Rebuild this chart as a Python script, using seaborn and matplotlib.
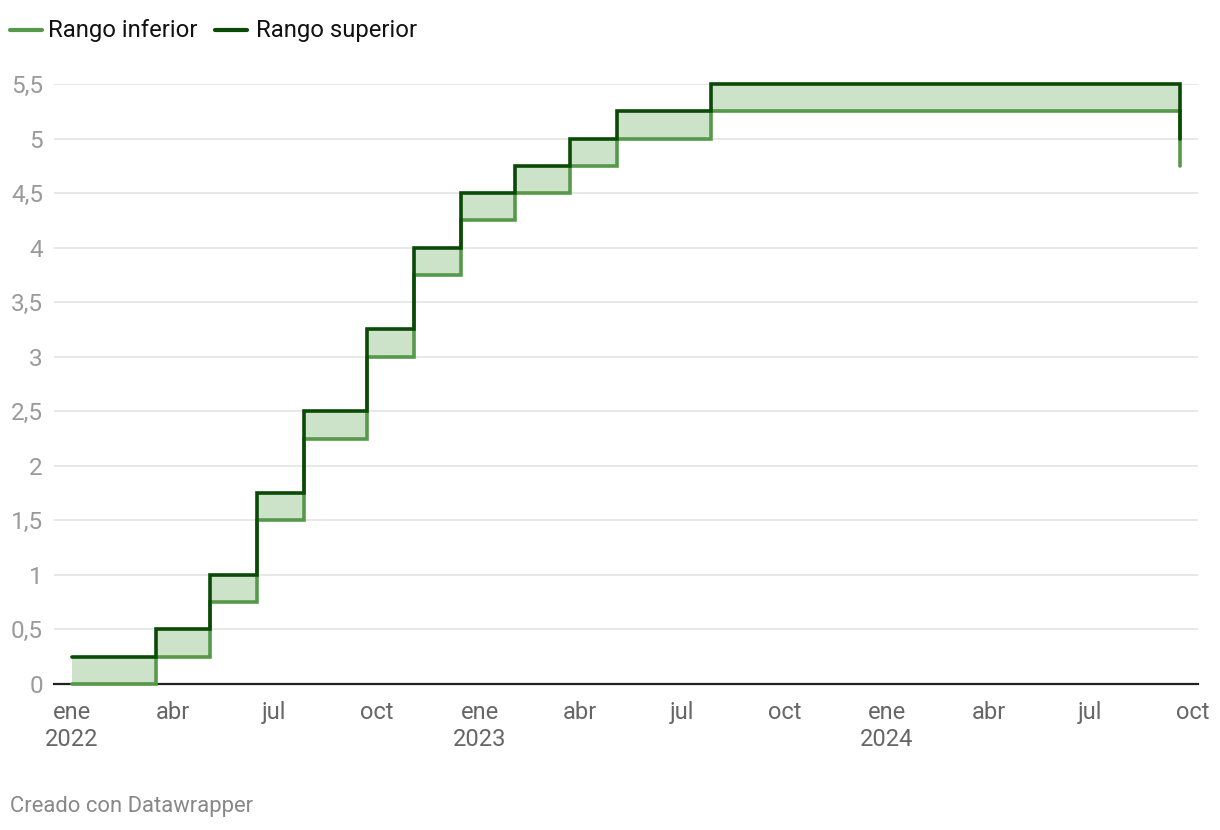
import matplotlib
matplotlib.use("Agg")
import matplotlib.pyplot as plt
import seaborn as sns
import pandas as pd

# Data: Fed funds target range changes
dates = ["2022-01-01", "2022-03-17", "2022-05-05", "2022-06-16", "2022-07-28",
         "2022-09-22", "2022-11-03", "2022-12-15", "2023-02-02", "2023-03-23",
         "2023-05-04", "2023-07-27", "2024-09-19"]
lower = [0.0, 0.25, 0.75, 1.5, 2.25, 3.0, 3.75, 4.25, 4.5, 4.75, 5.0, 5.25, 4.75]
upper = [0.25, 0.5, 1.0, 1.75, 2.5, 3.25, 4.0, 4.5, 4.75, 5.0, 5.25, 5.5, 5.0]

tick_dates = ["2022-01-01", "2022-04-01", "2022-07-01", "2022-10-01",
              "2023-01-01", "2023-04-01", "2023-07-01", "2023-10-01",
              "2024-01-01", "2024-04-01", "2024-07-01", "2024-10-01"]
tick_labels = ["ene\n2022", "abr", "jul", "oct",
               "ene\n2023", "abr", "jul", "oct",
               "ene\n2024", "abr", "jul", "oct"]
y_ticks = [0, 0.5, 1, 1.5, 2, 2.5, 3, 3.5, 4, 4.5, 5, 5.5]

LIGHT = "#57994a"
DARK = "#0a4a06"
FILL = "#cde3c9"

df = pd.DataFrame({"fecha": pd.to_datetime(dates), "Rango inferior": lower, "Rango superior": upper})
long = df.melt(id_vars="fecha", var_name="serie", value_name="valor")

sns.set_style("white")
plt.rcParams["font.family"] = ["Roboto", "DejaVu Sans"]

fig = plt.figure(figsize=(12.2, 8.3), dpi=100)
W, H = 1220, 830
ax = fig.add_axes([54 / W, (H - 684) / H, (1198 - 54) / W, (684 - 84) / H])

ax.fill_between(df["fecha"], df["Rango inferior"], df["Rango superior"], step="post",
                color=FILL, linewidth=0, zorder=1)
sns.lineplot(data=long, x="fecha", y="valor", hue="serie",
             palette={"Rango inferior": LIGHT, "Rango superior": DARK},
             drawstyle="steps-post", linewidth=2.6, ax=ax, legend=False, zorder=3)
for ln in ax.lines:
    ln.set_clip_on(False)
    ln.set_solid_capstyle("round")
    ln.set_solid_joinstyle("miter")

x0 = pd.Timestamp("2022-01-01") - pd.Timedelta(days=16.1)
x1 = pd.Timestamp("2024-10-01") + pd.Timedelta(days=4.5)
ax.set_xlim(x0, x1)
ax.set_ylim(0, 5.5)

ax.set_yticks(y_ticks)
ax.set_yticklabels([("%g" % v).replace(".", ",") for v in y_ticks])
ax.set_xticks(pd.to_datetime(tick_dates))
ax.set_xticklabels(tick_labels, linespacing=1.25)
ax.tick_params(axis="both", length=0, labelsize=17)
ax.tick_params(axis="x", colors="#666666", pad=12)
ax.tick_params(axis="y", colors="#9a9a9a", pad=8, labelsize=17.5)
for lab in ax.get_yticklabels():
    lab.set_horizontalalignment("right")
ax.grid(axis="y", color="#e2e2e2", linewidth=1.1)
ax.grid(axis="x", visible=False)
for s in ["top", "right", "left"]:
    ax.spines[s].set_visible(False)
ax.spines["bottom"].set_color("#222222")
ax.spines["bottom"].set_linewidth(1.6)
ax.set_xlabel("")
ax.set_ylabel("")

# Legend
def legend_item(x_line, x_text, color, label):
    fig.add_artist(plt.Line2D([x_line / W, (x_line + 32) / W], [1 - 30 / H, 1 - 30 / H],
                              color=color, linewidth=3, transform=fig.transFigure))
    fig.text(x_text / W, 1 - 30 / H, label, fontsize=17.2, color="#111111",
             va="center", ha="left")

legend_item(10, 48, LIGHT, "Rango inferior")
legend_item(215, 256, DARK, "Rango superior")

fig.text(10 / W, 1 - 806 / H, "Creado con Datawrapper", fontsize=15.8, color="#888888",
         va="center", ha="left")

fig.savefig("out.png", dpi=100)
